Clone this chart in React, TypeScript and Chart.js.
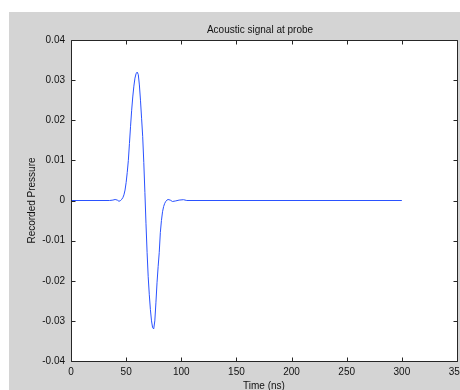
import { useEffect, useRef } from "react";
import { Chart, registerables } from "chart.js";

Chart.register(...registerables);

const chartTitle = "Acoustic signal at probe";
const xAxisLabel = "Time (ns)";
const yAxisLabel = "Recorded Pressure";

const timeNs = [
  0, 35, 38, 40, 42, 43.5, 45, 46, 47, 48, 49, 50, 51, 52, 53, 54, 55, 56, 57, 58, 59, 60,
  61, 62, 63, 64, 65, 66, 67, 68, 69, 70, 71, 72, 73, 74, 75, 76, 77, 78, 79, 80,
  81, 82, 83, 84, 85, 86, 87, 88, 90, 92, 95, 98, 102, 105, 300,
];
const pressure = [
  0, 0, 0.0001, 0.00025, 0.0001, -0.0002, 0, 0.0003, 0.0007, 0.0014, 0.0026, 0.0045, 0.007, 0.01, 0.0142, 0.0185, 0.0225, 0.0258, 0.0285, 0.0305, 0.0316, 0.032,
  0.0314, 0.0288, 0.025, 0.0205, 0.016, 0.0095, 0.002, -0.0058, -0.013, -0.019, -0.0235, -0.0272, -0.03, -0.0317, -0.032, -0.03, -0.0255, -0.0205, -0.0165, -0.013,
  -0.008, -0.005, -0.0028, -0.0015, -0.0007, -0.0002, 0.0001, 0.00025, 0.0001, -0.00025, -0.0001, 0.0001, 0.0002, 0, 0,
];

const xMin = 0;
const xMax = 350;
const xStep = 50;
const yMin = -0.04;
const yMax = 0.04;
const yStep = 0.01;

const FONT = "'Liberation Sans', Arial, Helvetica, sans-serif";
const BG = "#d4d4d4";
const AXIS = "#262626";

const framePlugin = {
  id: "matlabFrame",
  beforeDraw(chart: any) {
    const { ctx, chartArea: a, width, height } = chart;
    ctx.save();
    ctx.fillStyle = BG;
    ctx.fillRect(0, 0, width, height);
    ctx.fillStyle = "#ffffff";
    ctx.fillRect(a.left, a.top, a.right - a.left, a.bottom - a.top);
    ctx.restore();
  },
  afterDraw(chart: any) {
    const { ctx, chartArea: a } = chart;
    const xs = chart.scales.x;
    const ys = chart.scales.y;
    const L = Math.round(a.left) + 0.5;
    const R = Math.round(a.right) + 0.5;
    const T = Math.round(a.top) + 0.5;
    const B = Math.round(a.bottom) + 0.5;
    const tl = 4;
    ctx.save();
    ctx.strokeStyle = AXIS;
    ctx.lineWidth = 1;
    ctx.beginPath();
    ctx.rect(L, T, R - L, B - T);
    xs.ticks.forEach((t: any) => {
      const px = Math.round(xs.getPixelForValue(t.value)) + 0.5;
      ctx.moveTo(px, B);
      ctx.lineTo(px, B - tl);
      ctx.moveTo(px, T);
      ctx.lineTo(px, T + tl);
    });
    ys.ticks.forEach((t: any) => {
      const py = Math.round(ys.getPixelForValue(t.value)) + 0.5;
      ctx.moveTo(L, py);
      ctx.lineTo(L + tl, py);
      ctx.moveTo(R, py);
      ctx.lineTo(R - tl, py);
    });
    ctx.stroke();
    ctx.fillStyle = "#111111";
    ctx.font = `10px ${FONT}`;
    ctx.textAlign = "center";
    ctx.textBaseline = "middle";
    ctx.fillText(chartTitle, (a.left + a.right) / 2 - 4, a.top - 10);
    ctx.restore();
  },
};

export default function App() {
  const ref = useRef<HTMLCanvasElement | null>(null);
  useEffect(() => {
    if (!ref.current) return;
    const chart = new Chart(ref.current, {
      type: "scatter",
      data: {
        datasets: [
          {
            data: timeNs.map((t, i) => ({ x: t, y: pressure[i] })),
            showLine: true,
            borderColor: "#2a52ff",
            borderWidth: 1,
            pointRadius: 0,
            tension: 0,
          },
        ],
      },
      options: {
        animation: false,
        responsive: false,
        maintainAspectRatio: false,
        devicePixelRatio: 1,
        layout: { padding: { left: 0, right: 3, top: 28, bottom: 0 } },
        plugins: { legend: { display: false }, tooltip: { enabled: false }, title: { display: false } },
        scales: {
          x: {
            type: "linear",
            min: xMin,
            max: xMax,
            grid: { display: false, drawTicks: false },
            border: { display: false },
            ticks: {
              stepSize: xStep,
              padding: 5,
              color: "#111111",
              font: { family: FONT, size: 10 },
              maxRotation: 0,
              autoSkip: false,
            },
            title: {
              display: true,
              text: xAxisLabel,
              color: "#111111",
              font: { family: FONT, size: 10, lineHeight: 1 },
              padding: { top: 0, bottom: -1 },
            },
            afterFit(s: any) {
              s.height = 29;
              s.paddingLeft = 0;
              s.paddingRight = 0;
            },
          },
          y: {
            type: "linear",
            min: yMin,
            max: yMax,
            grid: { display: false, drawTicks: false },
            border: { display: false },
            ticks: {
              stepSize: yStep,
              padding: 6,
              color: "#111111",
              font: { family: FONT, size: 10 },
              autoSkip: false,
              callback: (v: any) => String(Number(Number(v).toFixed(2))),
            },
            title: {
              display: true,
              text: yAxisLabel,
              color: "#111111",
              font: { family: FONT, size: 10, lineHeight: 1 },
              padding: { top: 18, bottom: 0 },
            },
            afterFit(s: any) {
              s.width = 62;
              s.paddingTop = 0;
              s.paddingBottom = 0;
            },
          },
        },
      },
      plugins: [framePlugin],
    } as any);
    return () => chart.destroy();
  }, []);
  return (
    <canvas
      ref={ref}
      width={451}
      height={378}
      style={{ position: "fixed", left: 9, top: 12, width: 451, height: 378, display: "block" }}
    />
  );
}
